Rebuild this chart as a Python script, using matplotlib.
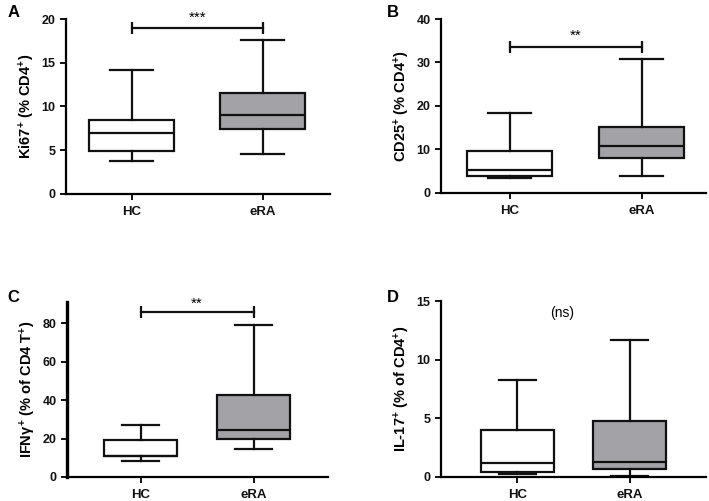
import matplotlib
matplotlib.use("Agg")
import matplotlib.pyplot as plt

plt.rcParams['font.family'] = ['Liberation Sans', 'DejaVu Sans']
plt.rcParams['mathtext.fontset'] = 'custom'
plt.rcParams['mathtext.rm'] = 'Liberation Sans:bold'
plt.rcParams['mathtext.it'] = 'Liberation Sans:bold'
plt.rcParams['mathtext.bf'] = 'Liberation Sans:bold'

# groups
groups = ['HC', 'eRA']

# box stats per panel: (low whisker, q1, median, q3, high whisker)
ki67_hc = [3.8, 4.9, 7.0, 8.5, 14.2]
ki67_era = [4.6, 7.4, 9.0, 11.5, 17.6]
cd25_hc = [3.5, 3.8, 5.3, 9.7, 18.3]
cd25_era = [3.8, 8.1, 10.8, 15.1, 30.8]
ifng_hc = [8.5, 10.7, 11.0, 19.0, 27.0]
ifng_era = [14.3, 19.8, 24.3, 42.8, 79.0]
il17_hc = [0.25, 0.45, 1.15, 4.0, 8.3]
il17_era = [0.05, 0.7, 1.3, 4.8, 11.7]

ylabels = [r'Ki67$^{+}$ (% CD4$^{+}$)',
           r'CD25$^{+}$ (% CD4$^{+}$)',
           r'IFN$\gamma^{+}$ (% of CD4 T$^{+}$)',
           r'IL-17$^{+}$ (% of CD4$^{+}$)']
letters = ['A', 'B', 'C', 'D']
yticks = [[0, 5, 10, 15, 20], [0, 10, 20, 30, 40], [0, 20, 40, 60, 80], [0, 5, 10, 15]]
ylims = [(0, 20), (0, 40), (0, 91), (0, 15)]
xlims = [(-0.5, 1.51), (-0.52, 1.49), (-0.65, 1.66), (-0.68, 1.68)]
sig = ['***', '**', '**', '(ns)']
bracket_y = [19, 33.6, 85.7, None]
sig_y = [19.3, 34.6, 86.5, 14.0]

panels = [(ki67_hc, ki67_era), (cd25_hc, cd25_era), (ifng_hc, ifng_era), (il17_hc, il17_era)]
positions = [[0.093, 0.613, 0.372, 0.349], [0.622, 0.615, 0.374, 0.347],
             [0.0945, 0.048, 0.3685, 0.349], [0.622, 0.048, 0.374, 0.351]]
letter_pos = [(0.01, 0.99), (0.545, 0.99), (0.01, 0.422), (0.545, 0.422)]

fig = plt.figure(figsize=(7.09, 5.01), dpi=100)
line_c = '#111111'
fills = ['white', '#a3a3a7']

for i in range(4):
    ax = fig.add_axes(positions[i])
    stats = []
    for g, vals in zip(groups, panels[i]):
        lo, q1, med, q3, hi = vals
        stats.append({'label': g, 'whislo': lo, 'q1': q1, 'med': med, 'q3': q3, 'whishi': hi, 'fliers': []})
    bp = ax.bxp(stats, positions=[0, 1], widths=0.65, capwidths=0.33, patch_artist=True,
                showfliers=False,
                boxprops=dict(edgecolor=line_c, linewidth=1.6),
                medianprops=dict(color=line_c, linewidth=1.6),
                whiskerprops=dict(color=line_c, linewidth=1.6),
                capprops=dict(color=line_c, linewidth=1.6))
    for patch, fc in zip(bp['boxes'], fills):
        patch.set_facecolor(fc)

    ax.set_xlim(*xlims[i])
    ax.set_ylim(*ylims[i])
    ax.set_yticks(yticks[i])
    ax.set_xticks([0, 1])
    ax.set_xticklabels(groups, fontweight='bold', fontsize=9.5)
    for lab in ax.get_yticklabels():
        lab.set_fontweight('bold')
        lab.set_fontsize(9)
    ax.set_ylabel(ylabels[i], fontsize=10.5, fontweight='bold', labelpad=3)
    for s in ['top', 'right']:
        ax.spines[s].set_visible(False)
    lw = 2.4 if i == 2 else 1.6
    ax.spines['left'].set_linewidth(lw)
    ax.spines['bottom'].set_linewidth(1.6)
    ax.tick_params(direction='out', width=1.4, length=4, colors=line_c)
    ax.tick_params(axis='x', pad=5)

    if bracket_y[i] is not None:
        ax.plot([0, 1], [bracket_y[i], bracket_y[i]], color=line_c, lw=1.6,
                marker='|', markersize=9, markeredgewidth=1.6, clip_on=False)
        ax.text(0.5, sig_y[i], sig[i], ha='center', va='bottom', fontsize=11, clip_on=False)
    else:
        ax.text(0.4, sig_y[i], sig[i], ha='center', va='center', fontsize=10)

    fig.text(letter_pos[i][0], letter_pos[i][1], letters[i], fontsize=12, fontweight='bold',
             ha='left', va='top')

fig.savefig('out.png', dpi=100)
